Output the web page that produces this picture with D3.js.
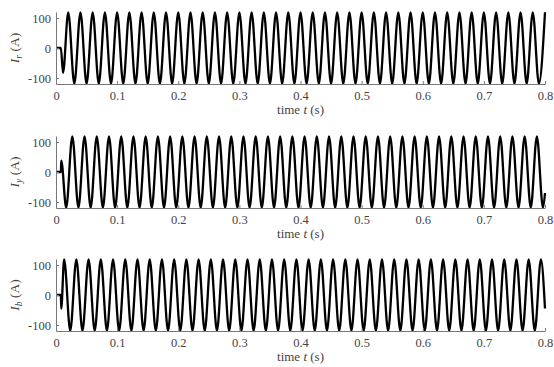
<!DOCTYPE html>
<html>
<head>
<meta charset="utf-8">
<script src="https://cdn.jsdelivr.net/npm/d3@7"></script>
<style>
  body { margin: 0; background: #fff; }
  text { font-family: "Liberation Serif", "Times New Roman", serif; fill: #444; }
</style>
</head>
<body>
<div id="chart"></div>
<script>
// tick labels
var xTicks = [0, 0.1, 0.2, 0.3, 0.4, 0.5, 0.6, 0.7, 0.8];
var yTicks = [-100, 0, 100];

// times in ms, currents in A
// switch-on transient, then the peaks / troughs of each phase, then the last sample
var irStart = [[0, 0], [8, 0], [11.5, -83]];
var irT = [20,30,40,50,60,70,80,90,100,110,120,130,140,150,160,170,180,190,200,210,
  220,230,240,250,260,270,280,290,300,310,320,330,340,350,360,370,380,390,400,410,
  420,430,440,450,460,470,480,490,500,510,520,530,540,550,560,570,580,590,600,610,
  620,630,640,650,660,670,680,690,700,710,720,730,740,750,760,770,780,790,800];
var irV = [119,-119,119,-119,119,-119,119,-119,119,-119,
  119,-119,119,-119,119,-119,119,-119,119,-119,
  119,-119,119,-119,119,-119,119,-119,119,-119,
  119,-119,119,-119,119,-119,119,-119,119,-119,
  119,-119,119,-119,119,-119,119,-119,119,-119,
  119,-119,119,-119,119,-119,119,-119,119,-119,
  119,-119,119,-119,119,-119,119,-119,119,-119,
  119,-119,119,-119,119,-119,119,-119,119];
var irEnd = [];

var iyStart = [[0, 0], [8, 0], [8.6, 38]];
var iyT = [16.7,26.7,36.7,46.7,56.7,66.7,76.7,86.7,96.7,106.7,116.7,126.7,136.7,146.7,156.7,
  166.7,176.7,186.7,196.7,206.7,216.7,226.7,236.7,246.7,256.7,266.7,276.7,286.7,296.7,306.7,
  316.7,326.7,336.7,346.7,356.7,366.7,376.7,386.7,396.7,406.7,416.7,426.7,436.7,446.7,456.7,
  466.7,476.7,486.7,496.7,506.7,516.7,526.7,536.7,546.7,556.7,566.7,576.7,586.7,596.7,606.7,
  616.7,626.7,636.7,646.7,656.7,666.7,676.7,686.7,696.7,706.7,716.7,726.7,736.7,746.7,756.7,
  766.7,776.7,786.7,796.7];
var iyV = [-119,119,-119,119,-119,119,-119,119,-119,119,
  -119,119,-119,119,-119,119,-119,119,-119,119,
  -119,119,-119,119,-119,119,-119,119,-119,119,
  -119,119,-119,119,-119,119,-119,119,-119,119,
  -119,119,-119,119,-119,119,-119,119,-119,119,
  -119,119,-119,119,-119,119,-119,119,-119,119,
  -119,119,-119,119,-119,119,-119,119,-119,119,
  -119,119,-119,119,-119,119,-119,119,-119];
var iyEnd = [[800, -70]];

var ibStart = [[0, 0], [8, 0], [8.6, -45]];
var ibT = [13.3,23.3,33.3,43.3,53.3,63.3,73.3,83.3,93.3,103.3,113.3,123.3,133.3,143.3,153.3,
  163.3,173.3,183.3,193.3,203.3,213.3,223.3,233.3,243.3,253.3,263.3,273.3,283.3,293.3,303.3,
  313.3,323.3,333.3,343.3,353.3,363.3,373.3,383.3,393.3,403.3,413.3,423.3,433.3,443.3,453.3,
  463.3,473.3,483.3,493.3,503.3,513.3,523.3,533.3,543.3,553.3,563.3,573.3,583.3,593.3,603.3,
  613.3,623.3,633.3,643.3,653.3,663.3,673.3,683.3,693.3,703.3,713.3,723.3,733.3,743.3,753.3,
  763.3,773.3,783.3,793.3];
var ibV = [119,-119,119,-119,119,-119,119,-119,119,-119,
  119,-119,119,-119,119,-119,119,-119,119,-119,
  119,-119,119,-119,119,-119,119,-119,119,-119,
  119,-119,119,-119,119,-119,119,-119,119,-119,
  119,-119,119,-119,119,-119,119,-119,119,-119,
  119,-119,119,-119,119,-119,119,-119,119,-119,
  119,-119,119,-119,119,-119,119,-119,119,-119,
  119,-119,119,-119,119,-119,119,-119,119];
var ibEnd = [[800, -45]];

var width = 554, height = 367;
var panelH = 72;

var panels = [
  {sub: "r", start: irStart, t: irT, v: irV, end: irEnd, top: 12},
  {sub: "y", start: iyStart, t: iyT, v: iyV, end: iyEnd, top: 136},
  {sub: "b", start: ibStart, t: ibT, v: ibV, end: ibEnd, top: 259}
];

var x = d3.scaleLinear().domain([0, 0.8]).range([56, 545]);

var svg = d3.select("#chart")
  .append("svg")
  .attr("width", width)
  .attr("height", height);

panels.forEach(function(p) {
  var y = d3.scaleLinear().domain([-120, 120]).range([p.top + panelH, p.top]);

  var pts = p.start
    .concat(p.t.map(function(d, i) { return [d, p.v[i]]; }))
    .concat(p.end);

  var line = d3.line()
    .curve(d3.curveMonotoneX)
    .x(function(d) { return x(d[0] / 1000); })
    .y(function(d) { return y(d[1]); });

  svg.append("path")
    .datum(pts)
    .attr("fill", "none")
    .attr("stroke", "#000")
    .attr("stroke-width", 2.3)
    .attr("stroke-linejoin", "round")
    .attr("d", line);

  // x axis
  var gx = svg.append("g")
    .attr("transform", "translate(0," + (p.top + panelH) + ")")
    .call(d3.axisBottom(x).tickValues(xTicks).tickFormat(String)
      .tickSize(-3).tickSizeOuter(0).tickPadding(7));

  // y axis
  var gy = svg.append("g")
    .attr("transform", "translate(" + x(0) + ",0)")
    .call(d3.axisLeft(y).tickValues(yTicks).tickFormat(String)
      .tickSize(-3).tickSizeOuter(0).tickPadding(5));

  [gx, gy].forEach(function(g) {
    g.attr("font-family", null).attr("font-size", null);
    g.selectAll("text").style("font-size", "12.5px").attr("fill", "#444");
    g.selectAll("line, path").attr("stroke", "#777");
  });

  // x title
  var xt = svg.append("text")
    .attr("x", (x(0) + x(0.8)) / 2)
    .attr("y", p.top + panelH + 30)
    .attr("text-anchor", "middle")
    .style("font-size", "13px");
  xt.append("tspan").text("time ");
  xt.append("tspan").style("font-style", "italic").text("t");
  xt.append("tspan").text(" (s)");

  // y title
  var yt = svg.append("text")
    .attr("transform", "translate(19," + (p.top + panelH / 2) + ") rotate(-90)")
    .attr("text-anchor", "middle")
    .style("font-size", "13.5px");
  yt.append("tspan").style("font-style", "italic").text("I");
  yt.append("tspan").style("font-style", "italic").style("font-size", "9.5px")
    .attr("dy", 3).text(p.sub);
  yt.append("tspan").attr("dy", -3).text(" (A)");
});
</script>
</body>
</html>
